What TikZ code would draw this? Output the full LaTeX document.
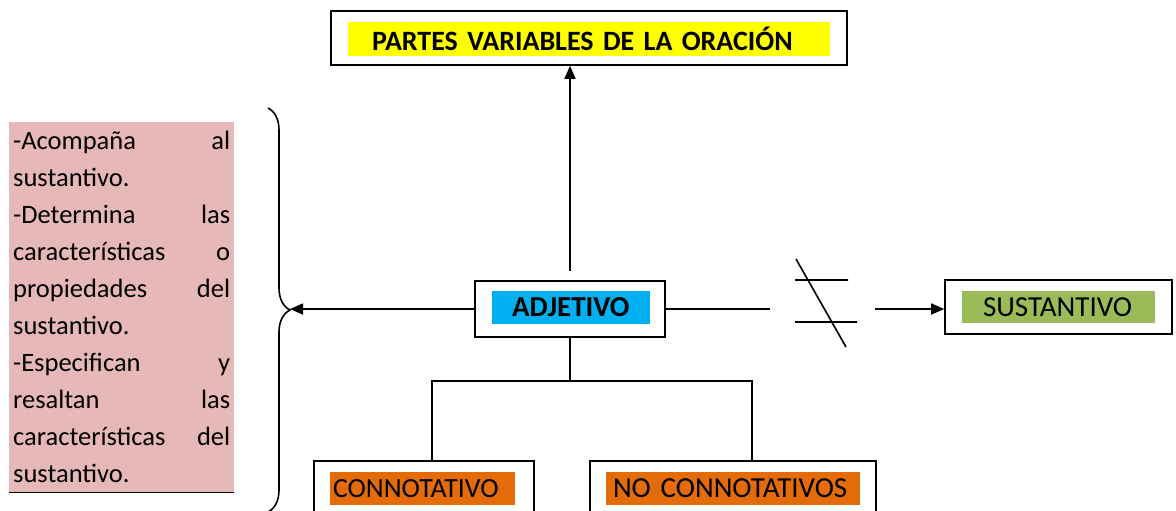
\documentclass[tikz,border=0pt]{standalone}
\usepackage{fontspec}
\setmainfont{Carlito}
\usetikzlibrary{positioning,arrows.meta,decorations.pathreplacing}
\definecolor{amarillo}{HTML}{FFFF00}
\definecolor{celeste}{HTML}{00B0F0}
\definecolor{verde}{HTML}{9BBB59}
\definecolor{naranja}{HTML}{E36C09}
\definecolor{rosado}{HTML}{E6B8B7}
\begin{document}
\begin{tikzpicture}[x=1pt,y=-1pt,every node/.style={font=\fontsize{29}{33}\selectfont},
    caja/.style={draw,line width=1.6pt,inner sep=0pt},
    resalte/.style={inner ysep=0pt,align=left},
    trazo/.style={line width=1.6pt},
    flecha/.style={trazo,-{Triangle[length=13pt,width=11pt]}}]
    \useasboundingbox (0,0) rectangle (1176,511);
    \clip (0,0) rectangle (1176,511);
    \node[caja,minimum width=516pt,minimum height=54pt] (partes) at (589,38) {};
    \node[resalte,fill=amarillo,inner xsep=24pt,text width=434pt,minimum height=34pt,font=\fontsize{28}{32}\selectfont\bfseries] (partes-txt) at (589,39) {PARTES VARIABLES DE LA ORACIÓN};
    \node[caja,minimum width=190pt,minimum height=56pt] (adjetivo) at (570,309) {};
    \node[resalte,fill=celeste,inner xsep=20pt,text width=118pt,minimum height=33pt,font=\fontsize{29}{33}\selectfont\bfseries] (adjetivo-txt) at (571,307.5) {ADJETIVO};
    \node[caja,minimum width=227pt,minimum height=54pt] (sustantivo) at (1058.5,307) {};
    \node[resalte,fill=verde,inner xsep=21pt,text width=151pt,minimum height=32pt] (sustantivo-txt) at (1058.5,307) {SUSTANTIVO};
    \node[caja,minimum width=220pt,minimum height=70pt] (connotativo) at (424,496) {};
    \node[resalte,fill=naranja,inner xsep=3pt,text width=179pt,minimum height=33pt,font=\fontsize{27.7}{33}\selectfont] (connotativo-txt) at (422.5,488.5) {CONNOTATIVO};
    \node[caja,minimum width=286pt,minimum height=70pt] (noconnotativo) at (733,496) {};
    \node[resalte,fill=naranja,inner xsep=7pt,text width=240pt,minimum height=33pt] (noconnotativo-txt) at (733,488.5) {NO CONNOTATIVOS};
    \node[fill=rosado,anchor=north west,text width=217pt,inner xsep=4pt,inner ysep=0pt,minimum height=370pt,align=left,font=\fontsize{26.5}{37}\selectfont] (rasgos) at (9,122) {-Acompaña\hfill al\\ sustantivo.\\ -Determina\hfill las\\ características\hfill o\\ propiedades\hfill del\\ sustantivo.\\ -Especifican\hfill y\\ resaltan\hfill las\\ características\hfill del\\ sustantivo.\par\vspace{8pt}};
    \draw[trazo] (rasgos.south west) -- (rasgos.south east);
    \draw[line width=1.6pt,decorate,decoration={brace,amplitude=22pt}] (268,108) -- (268,512);
    \coordinate (punta) at (290,309);
    \coordinate (corte-a) at (770,309);
    \coordinate (corte-b) at (875,309);
    \draw[flecha,shorten <=9pt] (adjetivo.north) -- (adjetivo.north |- partes.south);
    \draw[flecha] (adjetivo.west) -- (punta);
    \draw[trazo] (adjetivo.east) -- (corte-a);
    \draw[flecha] (corte-b) -- (corte-b -| sustantivo.west);
    \draw[trazo] (795,280) -- (848,280) (795,322) -- (857,322) (796,259) -- (846,347);
    \draw[trazo] (adjetivo.south) -- ++(0,43) coordinate (rama);
    \draw[trazo] ([xshift=8pt]connotativo.north) |- (rama) -| ([xshift=19pt]noconnotativo.north);
\end{tikzpicture}
\end{document}
